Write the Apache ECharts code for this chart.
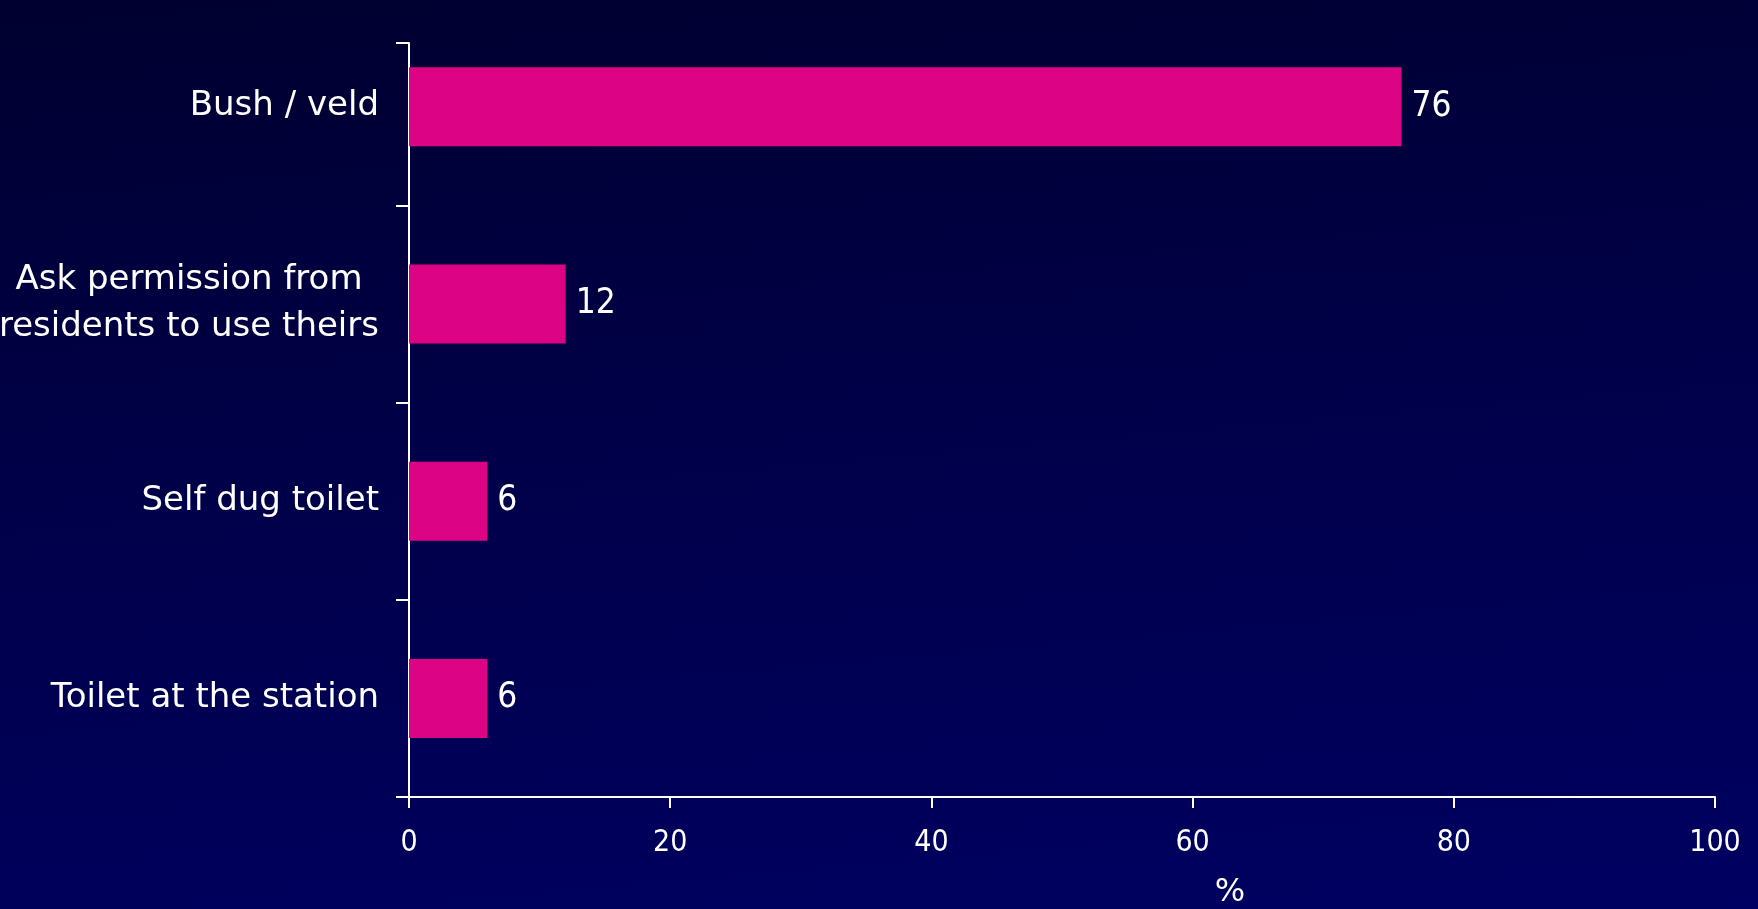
<!DOCTYPE html>
<html>
<head>
<meta charset="utf-8">
<script src="https://cdn.jsdelivr.net/npm/echarts@6/dist/echarts.min.js"></script>
<style>
  html, body { margin: 0; padding: 0; overflow: hidden; }
  body {
    width: 1758px; height: 909px;
    background: linear-gradient(175deg, #00002f 0%, #000048 45%, #000062 100%);
  }
  #chart { width: 1758px; height: 909px; }
</style>
</head>
<body>
<div id="chart"></div>
<script>
// Where people relieve themselves (percent of respondents)
const categories = [
  'Bush / veld',
  'Ask permission from\nresidents to use theirs',
  'Self dug toilet',
  'Toilet at the station'
];
const values = [76, 12, 6, 6];
const xTicks = [0, 20, 40, 60, 80, 100];

const FONT = '"DejaVu Sans", sans-serif';
const NUM_FONT = '"DejaVu Sans Condensed", "DejaVu Sans", sans-serif';
const WHITE = '#ffffff';

const chart = echarts.init(document.getElementById('chart'), null, { renderer: 'canvas' });

chart.setOption({
  backgroundColor: 'transparent',
  animation: false,
  grid: [
    // plot area holding the category bands and bars
    { left: 409, right: 43, top: 8, bottom: 112, containLabel: false, outerBoundsMode: 'none' },
    // frame grid that carries the visible vertical axis line
    { left: 409, right: 43, top: 43, bottom: 112, containLabel: false, outerBoundsMode: 'none' }
  ],
  xAxis: [
    {
      gridIndex: 0,
      type: 'value',
      min: xTicks[0],
      max: xTicks[xTicks.length - 1],
      interval: 20,
      name: '%',
      nameLocation: 'middle',
      nameGap: 80,
      nameTextStyle: { color: WHITE, fontFamily: FONT, fontSize: 32, padding: [0, 0, 0, 336] },
      axisLine: { show: true, lineStyle: { color: WHITE, width: 2 } },
      axisTick: { show: true, inside: false, length: 11, lineStyle: { color: WHITE, width: 2 } },
      axisLabel: { color: WHITE, fontFamily: NUM_FONT, fontSize: 30, margin: 31 },
      splitLine: { show: false }
    },
    {
      gridIndex: 1,
      type: 'value',
      min: 0, max: 1,
      show: false
    }
  ],
  yAxis: [
    {
      gridIndex: 0,
      type: 'category',
      inverse: true,
      data: categories,
      axisLine: { show: false },
      axisTick: {
        show: true,
        length: 13,
        interval: function (index) { return index !== 0; },
        lineStyle: { color: WHITE, width: 2 }
      },
      axisLabel: {
        color: WHITE,
        fontFamily: FONT,
        fontSize: 34,
        margin: 30,
        lineHeight: 47,
        formatter: function (v) {
          return v.split('\n').map(function (s) { return '{c|' + s + '}'; }).join('\n');
        },
        rich: {
          c: { color: WHITE, fontFamily: FONT, fontSize: 34, lineHeight: 47, align: 'center' }
        }
      }
    },
    {
      gridIndex: 1,
      type: 'value',
      min: 0, max: 1, interval: 1,
      axisLine: { show: true, lineStyle: { color: WHITE, width: 2 } },
      axisTick: { show: true, length: 13, lineStyle: { color: WHITE, width: 2 } },
      axisLabel: { show: false },
      splitLine: { show: false }
    }
  ],
  series: [
    {
      type: 'bar',
      xAxisIndex: 0,
      yAxisIndex: 0,
      data: values,
      barWidth: 79,
      itemStyle: { color: '#dc0384' },
      label: {
        show: true,
        position: 'right',
        distance: 10,
        color: WHITE,
        fontFamily: NUM_FONT,
        fontSize: 35
      }
    }
  ]
});
</script>
</body>
</html>
